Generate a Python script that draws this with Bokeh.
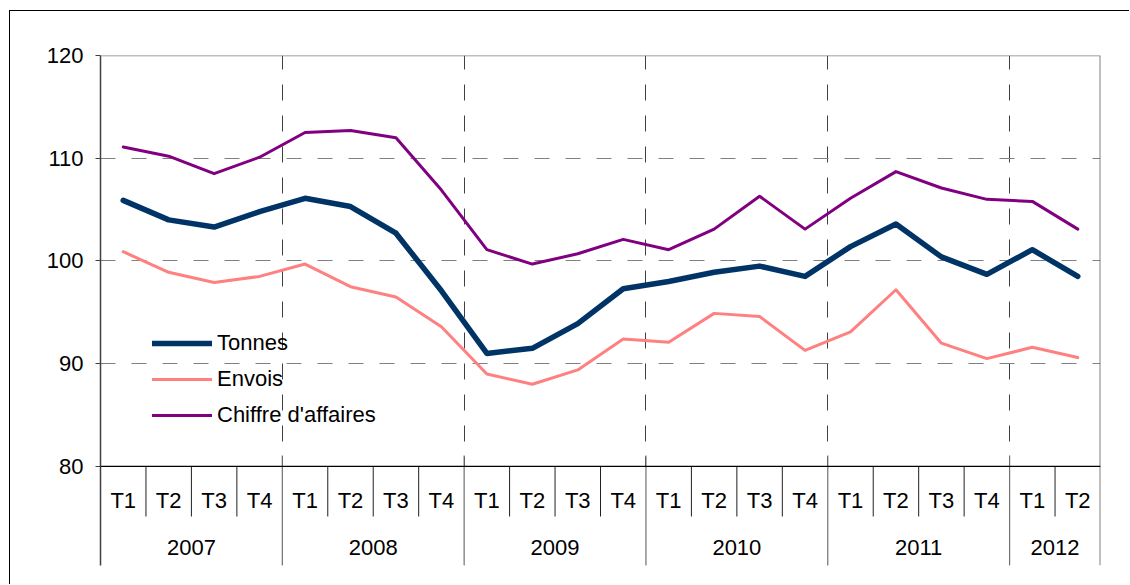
from bokeh.plotting import figure
from bokeh.models import Range1d, FixedTicker, Span, Legend, LegendItem
from bokeh.core.properties import value
from bokeh.embed import file_html
from bokeh.resources import INLINE

# ---------------- data ----------------
years = ["2007", "2008", "2009", "2010", "2011", "2012"]
quarters_per_year = [4, 4, 4, 4, 4, 2]
quarter_labels = ["T1", "T2", "T3", "T4"] * 5 + ["T1", "T2"]

tonnes = [105.9, 104.0, 103.3, 104.8, 106.1, 105.3, 102.7, 97.1,
          91.0, 91.5, 93.9, 97.3, 98.0, 98.9, 99.5, 98.5,
          101.4, 103.6, 100.4, 98.7, 101.1, 98.5]
envois = [100.9, 98.9, 97.9, 98.5, 99.7, 97.5, 96.5, 93.6,
          89.0, 88.0, 89.4, 92.4, 92.1, 94.9, 94.6, 91.3,
          93.1, 97.2, 92.0, 90.5, 91.6, 90.6]
chiffre = [111.1, 110.2, 108.5, 110.1, 112.5, 112.7, 112.0, 106.9,
           101.1, 99.7, 100.7, 102.1, 101.1, 103.1, 106.3, 103.1,
           106.1, 108.7, 107.1, 106.0, 105.8, 103.1]
series_names = ["Tonnes", "Envois", "Chiffre d'affaires"]
y_ticks = [80, 90, 100, 110, 120]

# ---------------- layout constants ----------------
Y_MIN, Y_MAX = 80, 120
Y_BOTTOM = 70.36          # bottom of the frame (room for the two-level category axis)
QUARTER_ROW_Y = 76.7      # y of quarter labels
YEAR_ROW_Y = 72.1         # y of year labels
QUARTER_SEP_END = 75.13   # bottom of short separators
YEAR_SEP_TOP = 81.07      # year separators rise slightly above the axis
FONT = "Liberation Sans"
FS = "22px"

n = len(quarter_labels)
xs = [i + 0.5 for i in range(n)]

# year boundaries and centres
bounds = [0]
for q in quarters_per_year:
    bounds.append(bounds[-1] + q)
inner_bounds = bounds[1:-1]
year_centers = [(bounds[i] + bounds[i + 1]) / 2 for i in range(len(years))]
quarter_seps = [i for i in range(1, n) if i not in inner_bounds]

p = figure(width=1120, height=574,
           x_range=Range1d(0, n), y_range=Range1d(Y_BOTTOM, Y_MAX),
           output_backend="svg", toolbar_location=None,
           x_axis_location=None,
           min_border_left=90, min_border_top=44,
           min_border_right=30, min_border_bottom=20)
p.outline_line_color = None
p.background_fill_color = "white"
p.border_fill_color = "white"
p.styles = {"margin-left": "9px", "margin-top": "10px",
            "border-left": "1px solid black", "border-top": "1px solid black"}

# y axis
yax = p.yaxis[0]
yax.ticker = FixedTicker(ticks=y_ticks)
yax.axis_line_color = "#404040"
yax.axis_line_width = 1.5
yax.major_tick_line_color = "#404040"
yax.major_tick_in = 0
yax.major_tick_out = 5
yax.minor_tick_line_color = None
yax.major_label_standoff = 12
yax.major_label_text_font = FONT
yax.major_label_text_font_size = FS
yax.major_label_text_color = "black"

# grids
p.ygrid.ticker = FixedTicker(ticks=[t for t in y_ticks if Y_MIN < t < Y_MAX])
p.ygrid.grid_line_color = "#808080"
p.ygrid.grid_line_dash = "15 16"
p.ygrid.grid_line_width = 1.2
p.xgrid.ticker = FixedTicker(ticks=inner_bounds)
p.xgrid.grid_line_color = "#404040"
p.xgrid.grid_line_dash = "16 15"
p.xgrid.grid_line_width = 1

# frame lines
p.add_layout(Span(location=Y_MAX, dimension="width", line_color="#808080", line_width=1.5))
p.add_layout(Span(location=n, dimension="height", line_color="#808080", line_width=2))

# white cover for the dashed grid below the axis, then separators
p.quad(left=[0], right=[n], bottom=[Y_BOTTOM], top=[Y_MIN], fill_color="white", line_color=None)
p.segment(x0=quarter_seps, x1=quarter_seps, y0=[Y_MIN] * len(quarter_seps),
          y1=[QUARTER_SEP_END] * len(quarter_seps), line_color="#202020", line_width=1)
p.segment(x0=inner_bounds, x1=inner_bounds, y0=[YEAR_SEP_TOP] * len(inner_bounds),
          y1=[Y_BOTTOM] * len(inner_bounds), line_color="#707070", line_width=1.2)
p.add_layout(Span(location=Y_MIN, dimension="width", line_color="black", line_width=1.2))

# category labels
p.text(x=xs, y=[QUARTER_ROW_Y] * n, text=quarter_labels, text_align="center",
       text_baseline="middle", text_font=value(FONT), text_font_size=FS, text_color="black")
p.text(x=year_centers, y=[YEAR_ROW_Y] * len(years), text=years, text_align="center",
       text_baseline="middle", text_font=value(FONT), text_font_size=FS, text_color="black")

# series
r1 = p.line(xs, tonnes, line_color="#003366", line_width=5.5, line_cap="round", line_join="round")
r2 = p.line(xs, envois, line_color="#FF8080", line_width=3, line_cap="round", line_join="round")
r3 = p.line(xs, chiffre, line_color="#800080", line_width=3, line_cap="round", line_join="round")

legend = Legend(items=[LegendItem(label=series_names[0], renderers=[r1]),
                       LegendItem(label=series_names[1], renderers=[r2]),
                       LegendItem(label=series_names[2], renderers=[r3])],
                location=(52, 137), orientation="vertical",
                glyph_width=60, glyph_height=26, label_height=26, spacing=10,
                padding=0, margin=0, label_standoff=5,
                label_text_font=FONT, label_text_font_size=FS, label_text_color="black",
                border_line_alpha=0, background_fill_alpha=0)
p.add_layout(legend)

open("out.html", "w").write(file_html(p, INLINE))
